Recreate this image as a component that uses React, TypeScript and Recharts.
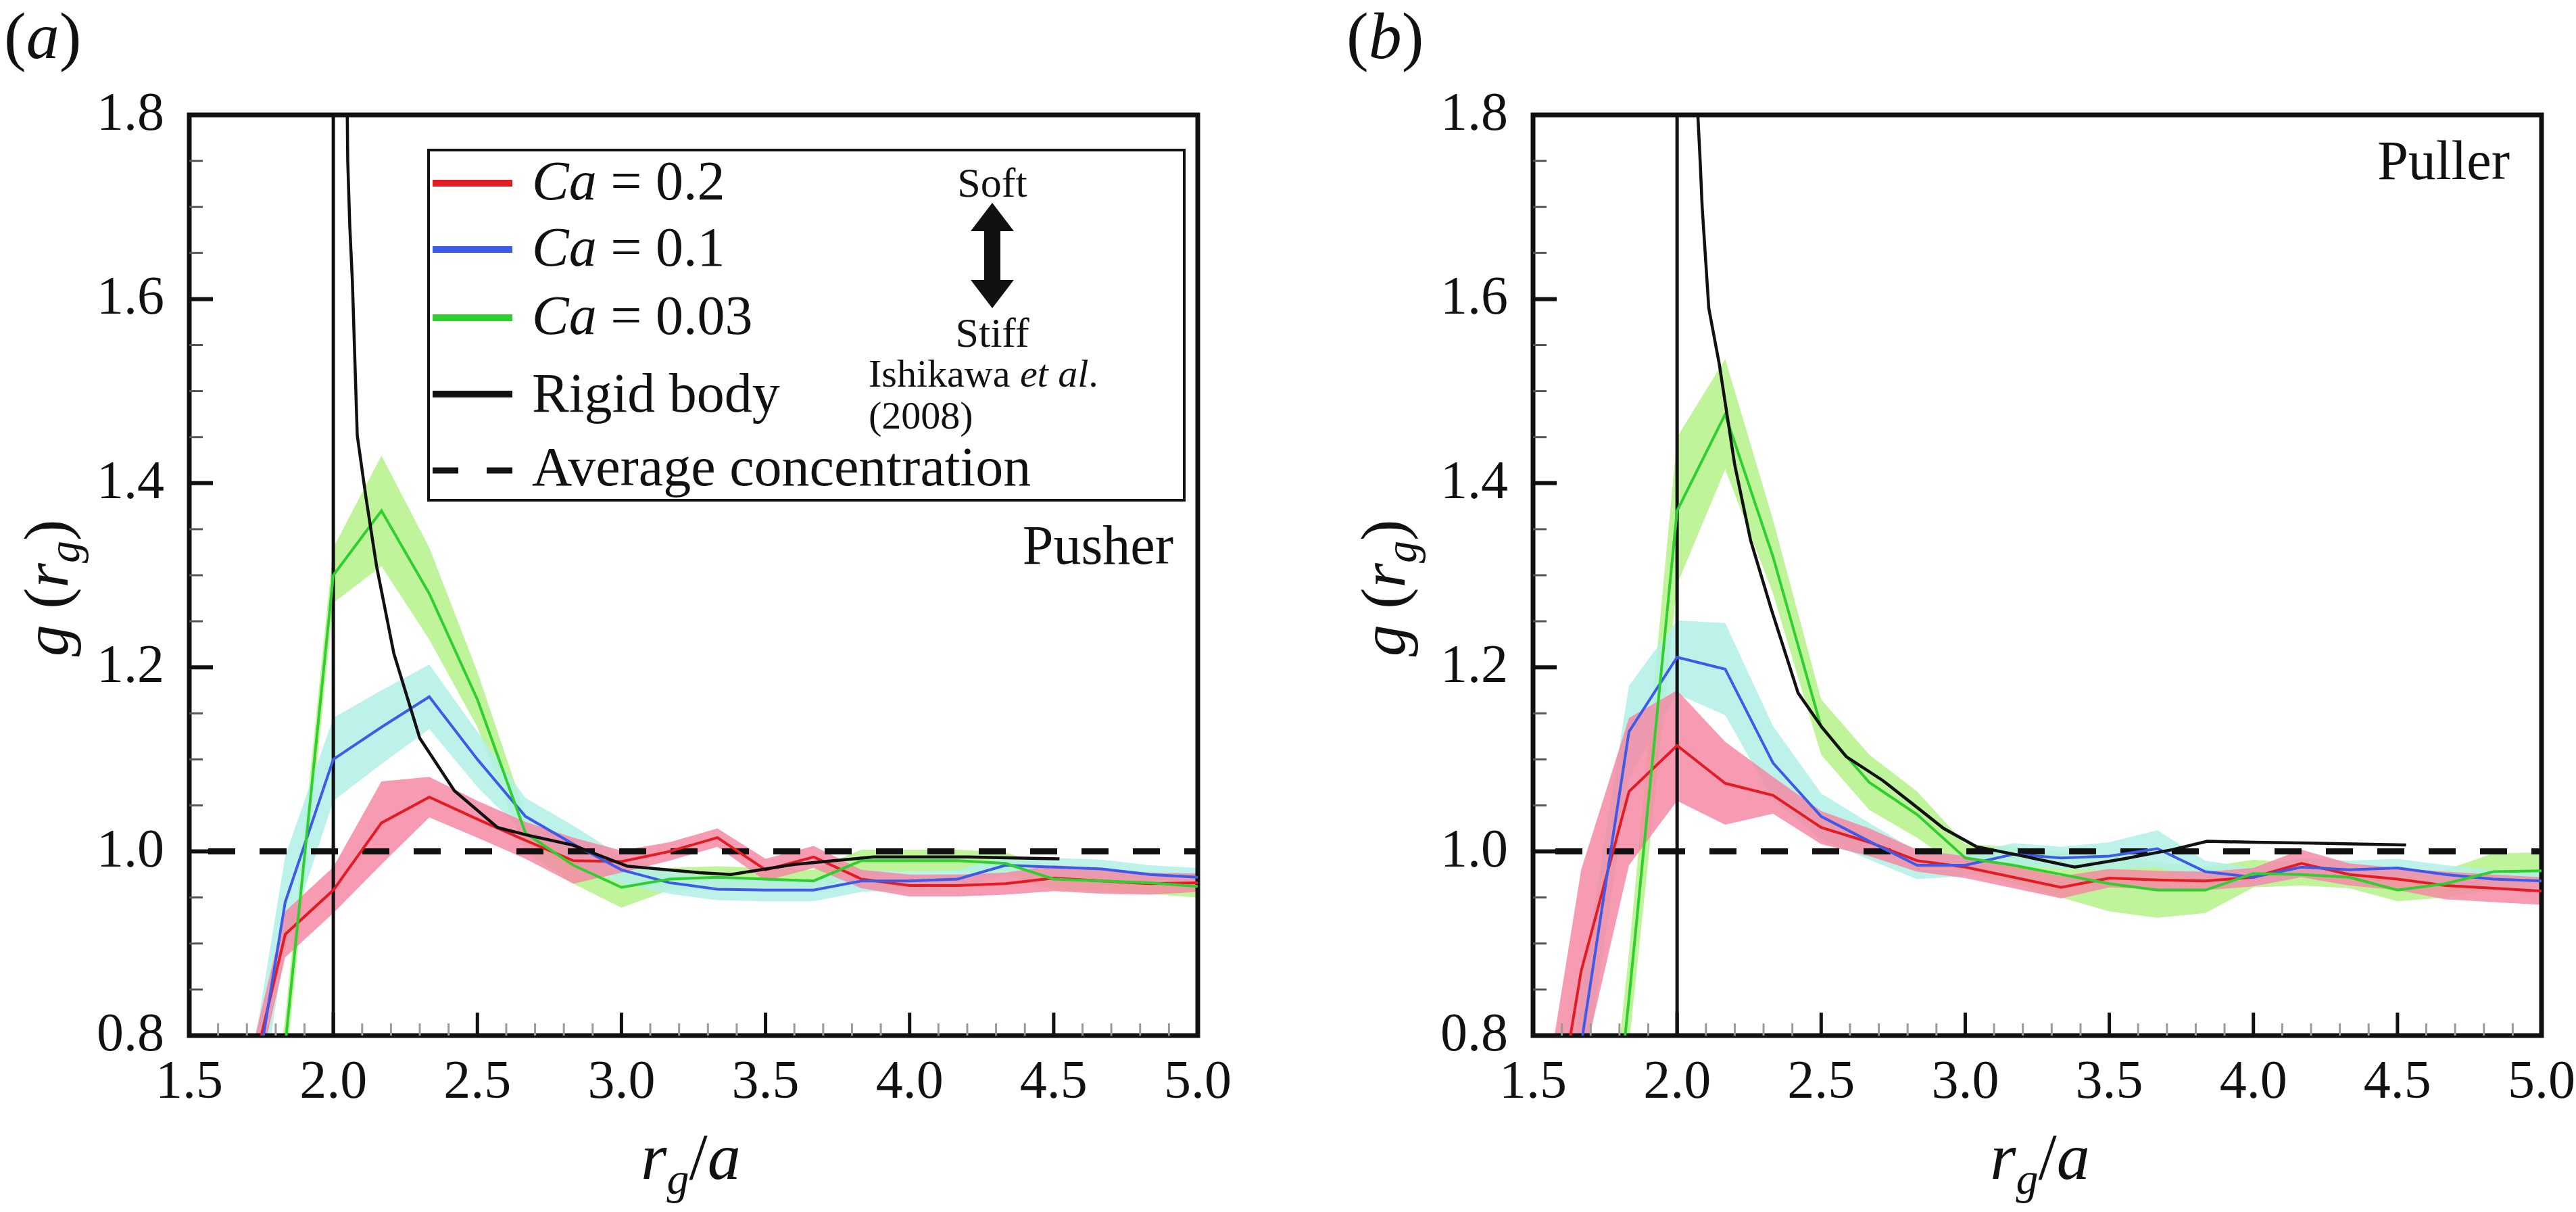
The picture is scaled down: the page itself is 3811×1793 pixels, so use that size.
import React from "react";
import {
  Area,
  ComposedChart,
  Legend,
  Line,
  ReferenceArea,
  ReferenceLine,
  XAxis,
  YAxis,
} from "recharts";

const FONT = "'Liberation Serif', 'Times New Roman', Tinos, 'DejaVu Serif', serif";

const RED = "#e31b23";
const BLUE = "#3d5ae8";
const GREEN = "#2fcf2f";
const BLACK = "#111111";
const PINK = "#f58aa5";
const CYAN = "#b0f0e6";
const LIME = "#b4f28a";

// r_g/a bins (spacing 1/6)
const bins = [1.5, 1.667, 1.833, 2.0, 2.167, 2.333, 2.5, 2.667, 2.833, 3.0, 3.167, 3.333, 3.5, 3.667, 3.833, 4.0, 4.167, 4.333, 4.5, 4.667, 4.833, 5.0];

// (a) pusher
const redA = [0.5, 0.69, 0.91, 0.958, 1.031, 1.059, 1.035, 1.012, 0.99, 0.989, 1.0, 1.015, 0.98, 0.994, 0.97, 0.963, 0.963, 0.965, 0.971, 0.968, 0.965, 0.966];
const redSpreadA = [0.03, 0.03, 0.025, 0.025, 0.045, 0.022, 0.02, 0.02, 0.025, 0.012, 0.01, 0.01, 0.012, 0.012, 0.01, 0.012, 0.012, 0.012, 0.014, 0.014, 0.012, 0.01];
const blueA = [0.4, 0.627, 0.945, 1.1, 1.135, 1.168, 1.1, 1.038, 1.008, 0.98, 0.966, 0.959, 0.958, 0.958, 0.968, 0.968, 0.97, 0.985, 0.983, 0.981, 0.975, 0.972];
const blueSpreadA = [0.04, 0.05, 0.05, 0.045, 0.04, 0.035, 0.03, 0.02, 0.02, 0.015, 0.012, 0.012, 0.012, 0.012, 0.012, 0.01, 0.01, 0.01, 0.01, 0.01, 0.01, 0.01];
const greenA = [0.3, 0.4, 0.79, 1.3, 1.37, 1.28, 1.165, 1.02, 0.985, 0.961, 0.97, 0.972, 0.97, 0.968, 0.99, 0.99, 0.99, 0.987, 0.97, 0.968, 0.966, 0.962];
const greenSpreadA = [0.03, 0.03, 0.03, 0.03, 0.06, 0.05, 0.03, 0.02, 0.02, 0.022, 0.012, 0.012, 0.012, 0.012, 0.012, 0.012, 0.012, 0.012, 0.012, 0.012, 0.012, 0.012];
const rigidXA = [2.045, 2.05, 2.057, 2.066, 2.083, 2.113, 2.15, 2.21, 2.3, 2.42, 2.57, 2.67, 2.83, 3.02, 3.27, 3.38, 3.6, 3.875, 4.2, 4.52];
const rigidYA = [1.9, 1.75, 1.68, 1.62, 1.452, 1.385, 1.31, 1.215, 1.123, 1.066, 1.026, 1.018, 1.007, 0.984, 0.977, 0.975, 0.986, 0.994, 0.994, 0.992];

// (b) puller
const redB = [0.555, 0.87, 1.065, 1.115, 1.074, 1.061, 1.026, 1.01, 0.99, 0.983, 0.972, 0.961, 0.971, 0.969, 0.968, 0.972, 0.987, 0.975, 0.97, 0.963, 0.96, 0.957];
const redSpreadB = [0.1, 0.11, 0.08, 0.06, 0.045, 0.02, 0.018, 0.015, 0.012, 0.012, 0.012, 0.012, 0.01, 0.01, 0.01, 0.01, 0.015, 0.012, 0.012, 0.015, 0.015, 0.015];
const blueB = [0.4, 0.79, 1.13, 1.211, 1.198, 1.096, 1.038, 1.011, 0.985, 0.985, 0.997, 0.993, 0.995, 1.003, 0.978, 0.972, 0.983, 0.98, 0.982, 0.975, 0.97, 0.968];
const blueSpreadB = [0.05, 0.06, 0.05, 0.04, 0.05, 0.04, 0.025, 0.02, 0.015, 0.012, 0.012, 0.012, 0.015, 0.02, 0.012, 0.01, 0.01, 0.01, 0.01, 0.01, 0.01, 0.01];
const greenB = [0.3, 0.35, 0.84, 1.37, 1.475, 1.32, 1.135, 1.075, 1.04, 0.993, 0.985, 0.975, 0.965, 0.958, 0.958, 0.976, 0.975, 0.972, 0.958, 0.965, 0.978, 0.979];
const greenSpreadB = [0.05, 0.05, 0.05, 0.08, 0.06, 0.04, 0.03, 0.03, 0.025, 0.015, 0.02, 0.025, 0.03, 0.03, 0.025, 0.015, 0.012, 0.012, 0.012, 0.015, 0.02, 0.02];
const rigidXB = [2.066, 2.072, 2.08, 2.087, 2.11, 2.146, 2.2, 2.255, 2.327, 2.42, 2.5, 2.587, 2.714, 2.82, 2.925, 3.04, 3.2, 3.38, 3.55, 3.72, 3.84, 4.0, 4.2, 4.53];
const rigidYB = [1.9, 1.8, 1.75, 1.7, 1.59, 1.53, 1.42, 1.338, 1.263, 1.172, 1.136, 1.103, 1.077, 1.051, 1.025, 1.005, 0.995, 0.983, 0.992, 1.002, 1.011, 1.01, 1.009, 1.007];

// ticks
const xTicks = [1.5, 1.6, 1.7, 1.8, 1.9, 2.0, 2.1, 2.2, 2.3, 2.4, 2.5, 2.6, 2.7, 2.8, 2.9, 3.0, 3.1, 3.2, 3.3, 3.4, 3.5, 3.6, 3.7, 3.8, 3.9, 4.0, 4.1, 4.2, 4.3, 4.4, 4.5, 4.6, 4.7, 4.8, 4.9, 5.0];
const xMajor = [1.5, 2.0, 2.5, 3.0, 3.5, 4.0, 4.5, 5.0];
const yTicks = [0.8, 0.85, 0.9, 0.95, 1.0, 1.05, 1.1, 1.15, 1.2, 1.25, 1.3, 1.35, 1.4, 1.45, 1.5, 1.55, 1.6, 1.65, 1.7, 1.75, 1.8];
const yMajor = [0.8, 1.0, 1.2, 1.4, 1.6, 1.8];

// legend
const caLabels = ["0.2", "0.1", "0.03"];
const caColors = [RED, BLUE, GREEN];

const isIn = (list: number[], v: number) => list.some((t) => Math.abs(t - v) < 1e-6);

const renderXTick = (props: any) => {
  const { x, y, payload } = props;
  const major = isIn(xMajor, payload.value);
  return (
    <g>
      <line
        x1={x}
        x2={x}
        y1={y}
        y2={y - (major ? 34 : 18)}
        stroke={major ? BLACK : "#9a9a9a"}
        strokeWidth={major ? 5 : 3}
      />
      {major && (
        <text x={x} y={y + 92} textAnchor="middle" fontFamily={FONT} fontSize={80} fill={BLACK}>
          {payload.value.toFixed(1)}
        </text>
      )}
    </g>
  );
};

const renderYTick = (props: any) => {
  const { x, y, payload } = props;
  const major = isIn(yMajor, payload.value);
  return (
    <g>
      <line
        x1={x}
        x2={x + (major ? 35 : 20)}
        y1={y}
        y2={y}
        stroke={major ? BLACK : "#555"}
        strokeWidth={major ? 6 : 3}
      />
      {major && (
        <text x={x - 37} y={y + 22} textAnchor="end" fontFamily={FONT} fontSize={80} fill={BLACK}>
          {payload.value.toFixed(1)}
        </text>
      )}
    </g>
  );
};

function PusherLegend() {
  const rowY = [51, 149, 250, 363, 476];
  return (
    <svg width={1122} height={522} style={{ display: "block" }}>
      <rect x={2} y={2} width={1118} height={518} fill="#fff" stroke={BLACK} strokeWidth={4} />
      {caLabels.map((ca, i) => (
        <g key={ca}>
          <line x1={8} x2={126} y1={rowY[i]} y2={rowY[i]} stroke={caColors[i]} strokeWidth={10} />
          <text x={155} y={rowY[i] + 24} fontFamily={FONT} fontSize={82} fill={BLACK}>
            <tspan fontStyle="italic">Ca</tspan>
            <tspan> = {ca}</tspan>
          </text>
        </g>
      ))}
      <line x1={8} x2={126} y1={rowY[3]} y2={rowY[3]} stroke={BLACK} strokeWidth={10} />
      <text x={155} y={rowY[3] + 26} fontFamily={FONT} fontSize={82} fill={BLACK}>
        Rigid body
      </text>
      <line x1={8} x2={126} y1={rowY[4]} y2={rowY[4]} stroke={BLACK} strokeWidth={9} strokeDasharray="38 42" />
      <text x={155} y={rowY[4] + 22} fontFamily={FONT} fontSize={82} fill={BLACK}>
        Average concentration
      </text>
      <text x={836} y={71} textAnchor="middle" fontFamily={FONT} fontSize={62} fill={BLACK}>
        Soft
      </text>
      <polygon
        points="836,80 868,122 848,122 848,194 868,194 836,236 804,194 824,194 824,122 804,122"
        fill={BLACK}
      />
      <text x={836} y={293} textAnchor="middle" fontFamily={FONT} fontSize={62} fill={BLACK}>
        Stiff
      </text>
      <text x={653} y={352} fontFamily={FONT} fontSize={58} fill={BLACK}>
        Ishikawa <tspan fontStyle="italic">et al</tspan>.
      </text>
      <text x={653} y={414} fontFamily={FONT} fontSize={58} fill={BLACK}>
        (2008)
      </text>
    </svg>
  );
}

type PanelProps = {
  left: number;
  width: number;
  red: number[];
  redSpread: number[];
  blue: number[];
  blueSpread: number[];
  green: number[];
  greenSpread: number[];
  rigidX: number[];
  rigidY: number[];
  dashOffset: number;
  legend: boolean;
};

function Panel(p: PanelProps) {
  const rows = bins.map((x, i) => ({
    x,
    red: p.red[i],
    redBand: [p.red[i] - p.redSpread[i], p.red[i] + p.redSpread[i]],
    blue: p.blue[i],
    blueBand: [p.blue[i] - p.blueSpread[i], p.blue[i] + p.blueSpread[i]],
    green: p.green[i],
    greenBand: [p.green[i] - p.greenSpread[i], p.green[i] + p.greenSpread[i]],
  }));
  const rigid = p.rigidX.map((x, i) => ({ x, rigid: p.rigidY[i] }));

  return (
    <div style={{ position: "absolute", left: p.left, top: 0 }}>
      <ComposedChart
        width={p.width}
        height={1793}
        data={rows}
        margin={{ top: 170, right: p.width - 1772, bottom: 111, left: 80 }}
      >
        <XAxis
          type="number"
          dataKey="x"
          domain={[1.5, 5]}
          allowDataOverflow
          ticks={xTicks}
          interval={0}
          tick={renderXTick}
          tickLine={false}
          axisLine={false}
          tickSize={0}
          tickMargin={0}
          height={150}
        />
        <YAxis
          type="number"
          domain={[0.8, 1.8]}
          allowDataOverflow
          ticks={yTicks}
          interval={0}
          tick={renderYTick}
          tickLine={false}
          axisLine={false}
          tickSize={0}
          tickMargin={0}
          width={200}
        />
        <Area dataKey="greenBand" stroke="none" fill={LIME} fillOpacity={0.85} legendType="none" isAnimationActive={false} />
        <Area dataKey="blueBand" stroke="none" fill={CYAN} fillOpacity={0.85} legendType="none" isAnimationActive={false} />
        <Area dataKey="redBand" stroke="none" fill={PINK} fillOpacity={0.85} legendType="none" isAnimationActive={false} />
        <ReferenceLine
          y={1}
          stroke={BLACK}
          strokeWidth={9}
          strokeDasharray="40 36"
          strokeDashoffset={p.dashOffset}
        />
        <ReferenceLine x={2} stroke={BLACK} strokeWidth={5} />
        <Line dataKey="red" stroke={RED} strokeWidth={4} dot={false} activeDot={false} isAnimationActive={false} />
        <Line dataKey="blue" stroke={BLUE} strokeWidth={4} dot={false} activeDot={false} isAnimationActive={false} />
        <Line dataKey="green" stroke={GREEN} strokeWidth={4} dot={false} activeDot={false} isAnimationActive={false} />
        <Line
          data={rigid}
          dataKey="rigid"
          stroke={BLACK}
          strokeWidth={4.5}
          dot={false}
          activeDot={false}
          isAnimationActive={false}
        />
        <ReferenceArea x1={1.5} x2={5} y1={0.8} y2={1.8} fill="none" fillOpacity={0} stroke={BLACK} strokeWidth={7} />
        {p.legend && (
          <Legend
            layout="horizontal"
            verticalAlign="middle"
            align="center"
            content={() => <PusherLegend />}
            wrapperStyle={{ left: 632, top: 220, width: 1122, height: 522 }}
          />
        )}
      </ComposedChart>
    </div>
  );
}

function AxisTitles({ dx, yLabelX }: { dx: number; yLabelX: number }) {
  return (
    <g fontFamily={FONT} fill={BLACK}>
      <text transform={`translate(${yLabelX},870) rotate(-90)`} textAnchor="middle" fontSize={94}>
        <tspan fontStyle="italic">g</tspan>
        <tspan> (</tspan>
        <tspan fontStyle="italic">r</tspan>
        <tspan fontStyle="italic" fontSize={66} dy={17}>g</tspan>
        <tspan dy={-17}>)</tspan>
      </text>
      <text x={dx + 1022} y={1744} textAnchor="middle" fontSize={98}>
        <tspan fontStyle="italic">r</tspan>
        <tspan fontStyle="italic" fontSize={66} dy={22}>g</tspan>
        <tspan dy={-22}>/</tspan>
        <tspan fontStyle="italic">a</tspan>
      </text>
    </g>
  );
}

export default function App() {
  return (
    <div style={{ position: "absolute", left: 0, top: 0, width: 3811, height: 1793, background: "#fff" }}>
      <Panel
        left={0}
        width={1900}
        red={redA}
        redSpread={redSpreadA}
        blue={blueA}
        blueSpread={blueSpreadA}
        green={greenA}
        greenSpread={greenSpreadA}
        rigidX={rigidXA}
        rigidY={rigidYA}
        dashOffset={48}
        legend
      />
      <Panel
        left={1988}
        width={1823}
        red={redB}
        redSpread={redSpreadB}
        blue={blueB}
        blueSpread={blueSpreadB}
        green={greenB}
        greenSpread={greenSpreadB}
        rigidX={rigidXB}
        rigidY={rigidYB}
        dashOffset={43}
        legend={false}
      />
      <svg
        width={3811}
        height={1793}
        style={{ position: "absolute", left: 0, top: 0, pointerEvents: "none" }}
      >
        <g fontFamily={FONT} fill={BLACK}>
          <text x={6} y={86} fontSize={98}>
            (<tspan fontStyle="italic">a</tspan>)
          </text>
          <text x={1992} y={86} fontSize={98}>
            (<tspan fontStyle="italic">b</tspan>)
          </text>
          <text x={1736} y={834} textAnchor="end" fontSize={82}>
            Pusher
          </text>
          <text x={3713} y={265} textAnchor="end" fontSize={82}>
            Puller
          </text>
        </g>
        <AxisTitles dx={0} yLabelX={100} />
        <AxisTitles dx={1996} yLabelX={2078} />
      </svg>
    </div>
  );
}
